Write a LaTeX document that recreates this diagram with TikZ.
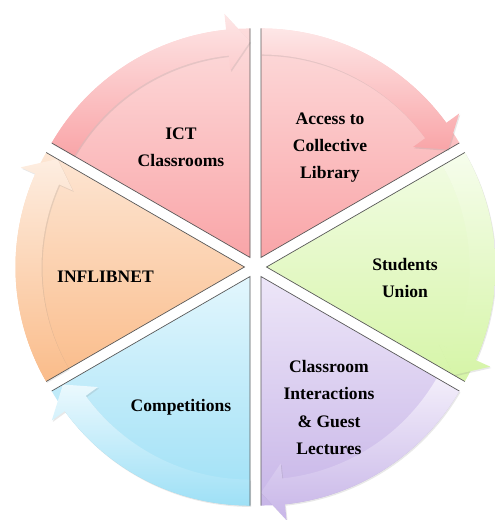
\documentclass[tikz,border=0pt]{standalone}
\usepackage{fontspec}
\usepackage{tikz}
\usepackage{xcolor}
\usetikzlibrary{shadows}
\setmainfont{Liberation Serif}

\definecolor{pinkTop}{RGB}{253,220,220}
\definecolor{pinkBot}{RGB}{249,165,168}
\definecolor{greenTop}{RGB}{242,252,228}
\definecolor{greenBot}{RGB}{214,245,168}
\definecolor{lilacTop}{RGB}{237,230,248}
\definecolor{lilacBot}{RGB}{200,182,232}
\definecolor{cyanTop}{RGB}{226,246,253}
\definecolor{cyanBot}{RGB}{158,224,246}
\definecolor{peachTop}{RGB}{253,230,212}
\definecolor{peachBot}{RGB}{250,188,138}

% one segment of the cycle: start angle, top colour, bottom colour
\newcommand{\piesector}[3]{%
    \begin{scope}[shift={({#1-30}:11)}]
        \shade[top color=#2, bottom color=#3] (0,0) -- (#1:229) arc[start angle=#1, end angle=#1-60, radius=229] -- cycle;
        \shade[band, top color=#2!70!white, bottom color=#3] (#1:229) arc[start angle=#1, end angle=#1-54, radius=229] -- ({#1-54}:245) -- ({#1-60}:216) -- ({#1-54}:188) -- ({#1-54}:203) arc[start angle=#1-54, end angle=#1, radius=203] -- cycle;
        \draw[edge] ({#1-60}:229) -- (0,0) -- (#1:229);
    \end{scope}}

\begin{document}
\begin{tikzpicture}[x=0.02cm, y=0.02cm,
        edge/.style={draw=black!65, line width=0.4pt},
        band/.style={drop shadow={opacity=0.18, shadow xshift=0.6pt, shadow yshift=-0.8pt}},
        lbl/.style={align=center, inner sep=0pt, font=\fontsize{10}{15.4}\selectfont\bfseries}]
    \useasboundingbox (-255.5,-253) rectangle (238.5,267);

    \piesector{150}{pinkTop}{pinkBot}
    \piesector{90}{pinkTop}{pinkBot}
    \piesector{30}{greenTop}{greenBot}
    \piesector{-30}{lilacTop}{lilacBot}
    \piesector{-90}{cyanTop}{cyanBot}
    \piesector{-150}{peachTop}{peachBot}

    \node[lbl] (ict) at (-74.5, 120) {ICT\\Classrooms};
    \node[lbl] (access) at (74.5, 119.5) {Access to\\Collective\\Library};
    \node[lbl] (union) at (149.5, -11) {Students\\Union};
    \node[lbl] (guest) at (73.5, -140.5) {Classroom\\Interactions\\\& Guest\\Lectures};
    \node[lbl] (comp) at (-74.5, -140) {Competitions};
    \node[lbl] (inflib) at (-150, -10) {INFLIBNET};
\end{tikzpicture}
\end{document}
